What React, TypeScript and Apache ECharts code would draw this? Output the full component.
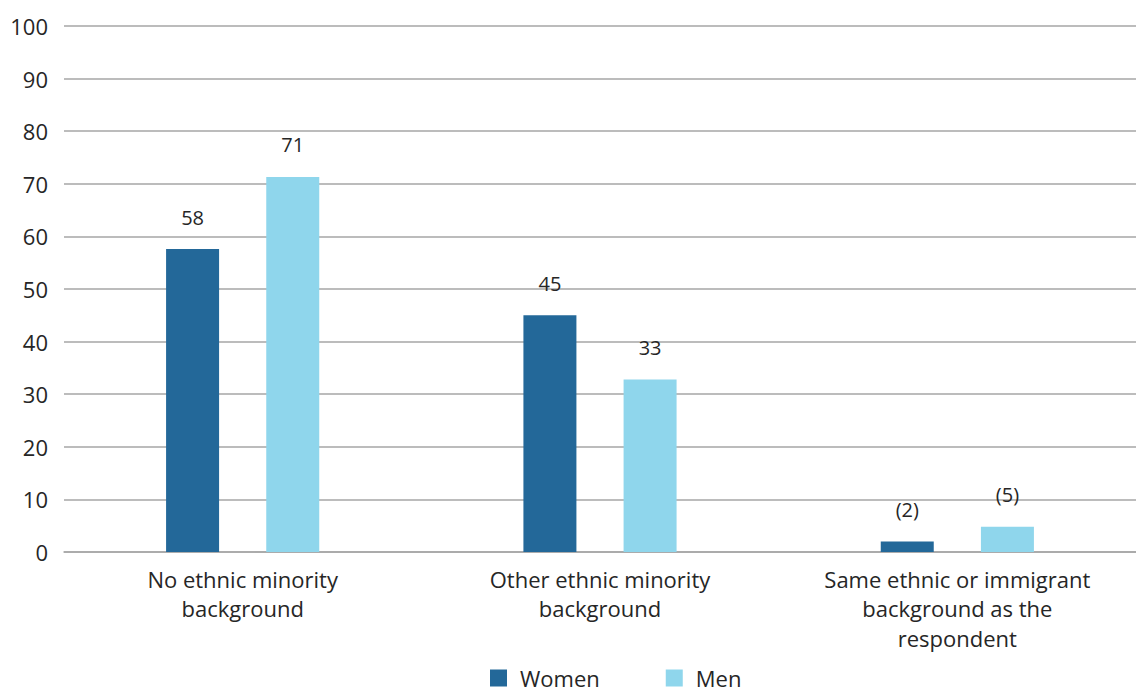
import React, { useEffect, useRef } from "react";
import * as echarts from "echarts";

const categories = [
  "No ethnic minority\nbackground",
  "Other ethnic minority\nbackground",
  "Same ethnic or immigrant\nbackground as the\nrespondent",
];
const womenValues = [57.6, 45.0, 2.0];
const menValues = [71.3, 32.8, 4.8];
const womenLabels = ["58", "45", "(2)"];
const menLabels = ["71", "33", "(5)"];
const yTicks = [0, 10, 20, 30, 40, 50, 60, 70, 80, 90, 100];

const FONT = "'Open Sans', Lato, sans-serif";
const TEXT = "#262626";

export default function App() {
  const ref = useRef<HTMLDivElement>(null);
  useEffect(() => {
    const chart = echarts.init(ref.current!, null, { renderer: "svg" });
    chart.setOption({
      animation: false,
      textStyle: { fontFamily: FONT },
      grid: { left: 64, right: 0, top: 26, bottom: 143, containLabel: false },
      legend: {
        top: 666,
        left: 485,
        padding: [0, 5, 0, 5],
        itemWidth: 17,
        itemHeight: 17,
        itemGap: 66,
        icon: "rect",
        textStyle: { fontSize: 22, lineHeight: 24, color: TEXT, fontFamily: FONT, padding: [0, 0, 0, 8] },
        data: ["Women", "Men"],
      },
      xAxis: {
        type: "category",
        data: categories,
        axisTick: { show: false },
        axisLine: { show: true, lineStyle: { color: "#a6a6a6", width: 1.5 } },
        axisLabel: {
          color: TEXT,
          fontSize: 22,
          lineHeight: 29.5,
          margin: 12,
          fontFamily: FONT,
          interval: 0,
        },
      },
      yAxis: {
        type: "value",
        min: yTicks[0],
        max: yTicks[yTicks.length - 1],
        interval: 10,
        axisLine: { show: false },
        axisTick: { show: false },
        splitLine: { lineStyle: { color: "#a6a6a6", width: 1.5 } },
        axisLabel: { color: TEXT, fontSize: 22, margin: 16, fontFamily: FONT },
      },
      series: [
        {
          name: "Women",
          type: "bar",
          data: womenValues,
          barWidth: 53,
          barGap: "89%",
          itemStyle: { color: "#236899" },
          label: {
            show: true,
            position: "top",
            distance: 22,
            color: TEXT,
            fontSize: 20,
            fontFamily: FONT,
            formatter: (p: any) => womenLabels[p.dataIndex],
          },
        },
        {
          name: "Men",
          type: "bar",
          data: menValues,
          barWidth: 53,
          itemStyle: { color: "#8fd6ec" },
          label: {
            show: true,
            position: "top",
            distance: 22,
            color: TEXT,
            fontSize: 20,
            fontFamily: FONT,
            formatter: (p: any) => menLabels[p.dataIndex],
          },
        },
      ],
    });
    return () => chart.dispose();
  }, []);
  return <div ref={ref} style={{ width: 1136, height: 695, position: "absolute", left: 0, top: 0 }} />;
}
